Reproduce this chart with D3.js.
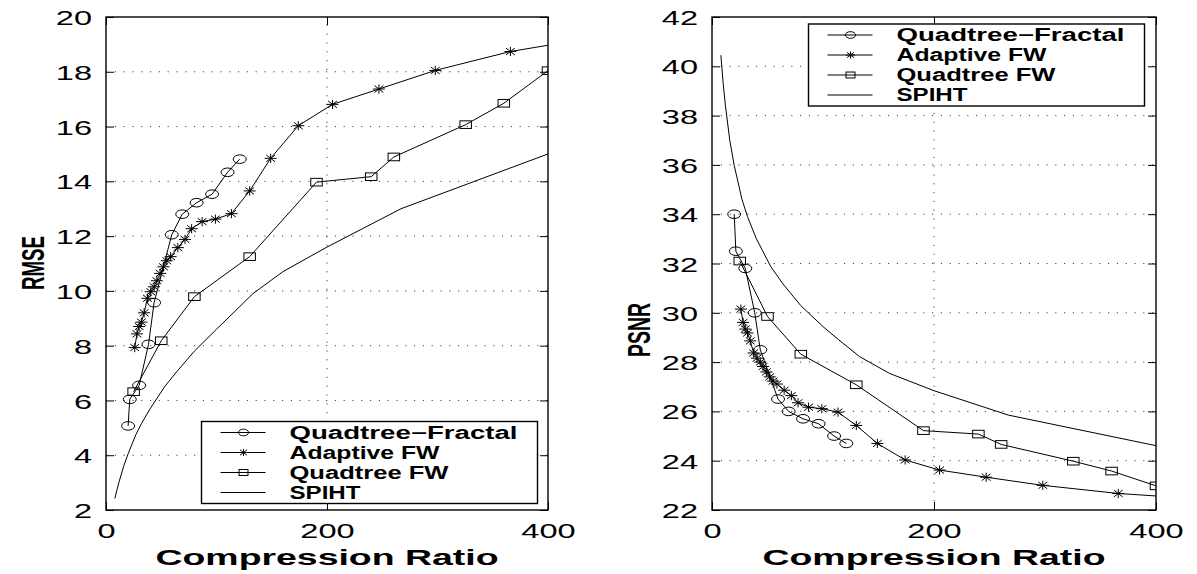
<!DOCTYPE html>
<html><head><meta charset="utf-8">
<script src="https://cdn.jsdelivr.net/npm/d3@7"></script>
<style>body{margin:0;background:#fff}svg{display:block}</style>
</head><body>
<svg id="chart" width="1197" height="574"></svg>
<script>
// ---------- data ----------
const seriesNames = ["Quadtree\u2212Fractal", "Adaptive FW", "Quadtree FW", "SPIHT"];
const xTicks = [0, 200, 400];
const rmseTicks = [2, 4, 6, 8, 10, 12, 14, 16, 18, 20];
const psnrTicks = [22, 24, 26, 28, 30, 32, 34, 36, 38, 40, 42];
const xLabel = "Compression Ratio";

// Quadtree-Fractal
const qfRatio = [20, 21.5, 30, 38.5, 43.5, 59.5, 69, 82, 96, 110, 121];
const qfRmse  = [5.07, 6.04, 6.55, 8.05, 9.57, 12.05, 12.8, 13.22, 13.53, 14.33, 14.81];
const qfPsnr  = [34.0, 32.5, 31.8, 30.0, 28.5, 26.5, 26.0, 25.7, 25.5, 25.0, 24.7];
// Adaptive FW
const afRatio = [26, 28, 30, 32, 34.5, 37.5, 40.5, 43.5, 46, 49, 52, 55, 58.5, 65, 71.5, 77.5, 87, 99, 113.5, 130, 149, 174, 205, 247, 298, 366, 430];
const afRmse  = [7.93, 8.43, 8.7, 8.86, 9.2, 9.73, 9.97, 10.15, 10.37, 10.64, 10.88, 11.1, 11.25, 11.58, 11.88, 12.27, 12.53, 12.62, 12.82, 13.65, 14.84, 16.03, 16.81, 17.37, 18.05, 18.74, 19.17];
const afPsnr  = [30.15, 29.61, 29.34, 29.18, 28.86, 28.37, 28.16, 28.0, 27.82, 27.6, 27.4, 27.23, 27.11, 26.86, 26.64, 26.35, 26.17, 26.11, 25.97, 25.43, 24.7, 24.03, 23.62, 23.33, 23.0, 22.67, 22.48];
// Quadtree FW
const qwRatio = [25, 50, 80, 130, 190.5, 240, 260.5, 325.5, 360, 400];
const qwRmse  = [6.32, 8.18, 9.79, 11.25, 13.97, 14.17, 14.89, 16.07, 16.85, 18.04];
const qwPsnr  = [32.1, 29.85, 28.32, 27.08, 25.22, 25.08, 24.66, 23.98, 23.58, 22.98];
// SPIHT
const spRatio = [8, 10, 12, 16, 20, 27, 32, 40, 53, 64, 80, 100, 114, 133, 160, 200, 267, 400];
const spRmse  = [2.42, 2.75, 3.05, 3.6, 4.05, 4.75, 5.15, 5.7, 6.5, 7.05, 7.8, 8.6, 9.15, 9.9, 10.7, 11.6, 13.0, 15.0];
const spPsnr  = [40.45, 39.34, 38.44, 37.0, 35.98, 34.6, 33.9, 33.0, 31.87, 31.17, 30.29, 29.44, 28.91, 28.22, 27.54, 26.84, 25.85, 24.61];

const markerTypes = ["circle", "star", "square", "none"];

// ---------- drawing ----------
const svg = d3.select("#chart");
const FONT = "'Liberation Sans', Arial, Helvetica, sans-serif";
const SX = 1.55; // horizontal stretch of the original figure's text

function drawMarker(g, type, cx, cy, big) {
  const k = big ? 1 : 0.78;
  if (type === "circle") {
    g.append("ellipse").attr("cx", cx).attr("cy", cy).attr("rx", 6.5 * k).attr("ry", 4.3 * k)
      .attr("fill", "none").attr("stroke", "#000").attr("stroke-width", 1);
  } else if (type === "square") {
    const w = 11.5 * k, h = 7.6 * k;
    g.append("rect").attr("x", cx - w / 2).attr("y", cy - h / 2).attr("width", w).attr("height", h)
      .attr("fill", "none").attr("stroke", "#000").attr("stroke-width", 1);
  } else if (type === "star") {
    const a = 6 * k, b = 4.6 * k, da = 4.4 * k, db = 3.4 * k;
    g.append("path")
      .attr("d", `M${cx - a},${cy}H${cx + a}M${cx},${cy - b}V${cy + b}M${cx - da},${cy - db}L${cx + da},${cy + db}M${cx - da},${cy + db}L${cx + da},${cy - db}`)
      .attr("fill", "none").attr("stroke", "#000").attr("stroke-width", 1);
  }
}

function panel(o) {
  const x = d3.scaleLinear().domain([0, 400]).range([o.x0, o.x1]);
  const y = d3.scaleLinear().domain(o.yDomain).range([510, 17]);
  const g = svg.append("g");
  const clipId = "clip" + o.id;
  svg.append("clipPath").attr("id", clipId).append("rect")
    .attr("x", o.x0).attr("y", 17).attr("width", o.x1 - o.x0).attr("height", 493);

  // grid
  const grid = g.append("g").attr("stroke", "#444").attr("stroke-width", 1).attr("stroke-dasharray", "1.2,7.6");
  o.yTicks.slice(1, -1).forEach(t => {
    grid.append("line").attr("x1", o.x0).attr("x2", o.x1).attr("y1", y(t)).attr("y2", y(t));
  });
  xTicks.slice(1, -1).forEach(t => {
    grid.append("line").attr("x1", x(t)).attr("x2", x(t)).attr("y1", 510).attr("y2", 17);
  });

  // series
  const lineGen = d3.line().x(d => x(d[0])).y(d => y(d[1]));
  const dataG = g.append("g").attr("clip-path", `url(#${clipId})`);
  o.series.forEach((s, i) => {
    const pts = s.xs.map((v, j) => [v, s.ys[j]]);
    dataG.append("path").attr("d", lineGen(pts)).attr("fill", "none").attr("stroke", "#000").attr("stroke-width", 1);
    pts.forEach(p => drawMarker(dataG, markerTypes[i], x(p[0]), y(p[1]), true));
  });

  // axes (ticks inward on all four sides)
  const ax = g.append("g").attr("font-family", FONT);
  const bottom = ax.append("g").attr("transform", "translate(0,510)")
    .call(d3.axisBottom(x).tickValues(xTicks).tickSizeInner(-8).tickSizeOuter(0));
  const top = ax.append("g").attr("transform", "translate(0,17)")
    .call(d3.axisTop(x).tickValues(xTicks).tickSizeInner(-8).tickSizeOuter(0).tickFormat(""));
  const left = ax.append("g").attr("transform", `translate(${o.x0},0)`)
    .call(d3.axisLeft(y).tickValues(o.yTicks).tickSizeInner(-8).tickSizeOuter(0));
  const right = ax.append("g").attr("transform", `translate(${o.x1},0)`)
    .call(d3.axisRight(y).tickValues(o.yTicks).tickSizeInner(-8).tickSizeOuter(0).tickFormat(""));
  [bottom, top, left, right].forEach(a => {
    a.select(".domain").remove();
    a.selectAll(".tick line").attr("stroke", "#000").attr("stroke-width", 1);
  });
  bottom.selectAll(".tick text").attr("y", 28).attr("dy", 0).attr("font-size", 21)
    .attr("fill", "#000").attr("transform", `scale(${SX},1)`);
  left.selectAll(".tick text").attr("x", -14 / SX).attr("dy", "0.36em").attr("font-size", 21)
    .attr("fill", "#000").attr("transform", `scale(${SX},1)`);

  // frame
  g.append("rect").attr("x", o.x0).attr("y", 17).attr("width", o.x1 - o.x0).attr("height", 493)
    .attr("fill", "none").attr("stroke", "#000").attr("stroke-width", 1.4);

  // axis labels
  g.append("text").attr("x", (o.x0 + o.x1) / 2).attr("y", 565).attr("text-anchor", "middle")
    .attr("font-family", FONT).attr("font-weight", "bold").attr("font-size", 22)
    .attr("textLength", 343).attr("lengthAdjust", "spacingAndGlyphs").text(xLabel);
  g.append("text").attr("transform", `translate(${o.ylx},${o.yly}) rotate(-90)`).attr("text-anchor", "middle")
    .attr("font-family", FONT).attr("font-weight", "bold").attr("font-size", 31)
    .attr("textLength", 54).attr("lengthAdjust", "spacingAndGlyphs").text(o.yLabel);

  // legend
  const L = g.append("g").attr("transform", `translate(${o.lx},${o.ly})`);
  L.append("rect").attr("width", 336).attr("height", 82).attr("fill", "#fff").attr("stroke", "#000").attr("stroke-width", 1.4);
  seriesNames.forEach((nm, i) => {
    const ry = 11 + i * 20;
    L.append("line").attr("x1", 19).attr("x2", 64).attr("y1", ry).attr("y2", ry).attr("stroke", "#000").attr("stroke-width", 1);
    drawMarker(L, markerTypes[i], 42, ry, false);
    const tl = [228, 150, 159, 71][i];
    L.append("text").attr("x", 88).attr("y", ry + 6.3).attr("font-family", FONT).attr("font-weight", "bold")
      .attr("font-size", 17.5).attr("textLength", tl).attr("lengthAdjust", "spacingAndGlyphs").text(nm);
  });
}

panel({
  id: "L", x0: 106, x1: 548, yDomain: [2, 20], yTicks: rmseTicks, yLabel: "RMSE", ylx: 44, yly: 263,
  lx: 201.5, ly: 421.5,
  series: [
    { xs: qfRatio, ys: qfRmse }, { xs: afRatio, ys: afRmse },
    { xs: qwRatio, ys: qwRmse }, { xs: spRatio, ys: spRmse }
  ]
});
panel({
  id: "R", x0: 712, x1: 1156, yDomain: [22, 42], yTicks: psnrTicks, yLabel: "PSNR", ylx: 650, yly: 330,
  lx: 808.5, ly: 24,
  series: [
    { xs: qfRatio, ys: qfPsnr }, { xs: afRatio, ys: afPsnr },
    { xs: qwRatio, ys: qwPsnr }, { xs: spRatio, ys: spPsnr }
  ]
});
</script>
</body></html>
